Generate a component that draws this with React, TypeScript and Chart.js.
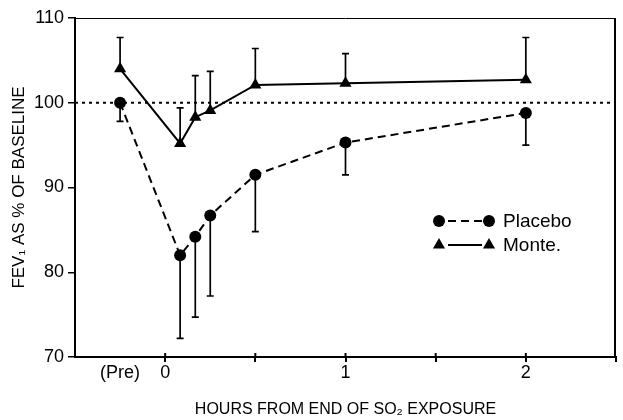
import { useEffect, useRef } from "react";
import { Chart, registerables } from "chart.js";

Chart.register(...registerables);

// Hours from end of SO2 exposure ("Pre" plotted at -0.25)
const hours = [-0.25, 0.083, 0.167, 0.25, 0.5, 1, 2];
const placebo = [100.0, 82.0, 84.2, 86.7, 91.5, 95.3, 98.8];
const placeboLow = [97.8, 72.2, 74.7, 77.2, 84.8, 91.5, 95.0];
const monte = [104.0, 95.2, 98.3, 99.1, 102.1, 102.3, 102.7];
const monteHigh = [107.7, 99.4, 103.2, 103.7, 106.4, 105.8, 107.7];
const xTicks = [-0.25, 0, 0.5, 1, 1.5, 2, 2.5];
const xTickLabels = ["(Pre)", "0", "", "1", "", "2", ""];
const yTicks = [70, 80, 90, 100, 110];
const baseline = 100;
const xRange = [-0.5, 2.5];
const yRange = [70, 110];

const FONT = "'Liberation Sans', Arial, sans-serif";

const errorBarPlugin = {
  id: "errorBars",
  beforeDatasetsDraw(chart: any) {
    const ctx = chart.ctx;
    const xs = chart.scales.x;
    const ys = chart.scales.y;
    ctx.save();
    ctx.strokeStyle = "#000";
    ctx.lineWidth = 1.7;
    chart.data.datasets.forEach((ds: any) => {
      if (!ds.errorEnds) return;
      ds.data.forEach((p: any, i: number) => {
        const x = xs.getPixelForValue(p.x);
        const y0 = ys.getPixelForValue(p.y);
        const y1 = ys.getPixelForValue(ds.errorEnds[i]);
        ctx.beginPath();
        ctx.moveTo(x, y0);
        ctx.lineTo(x, y1);
        ctx.moveTo(x - 3.5, y1);
        ctx.lineTo(x + 3.5, y1);
        ctx.stroke();
      });
    });
    ctx.restore();
  },
};

const framePlugin = {
  id: "frame",
  afterDraw(chart: any) {
    const ctx = chart.ctx;
    const { left, right, top, bottom } = chart.chartArea;
    const xs = chart.scales.x;
    ctx.save();
    ctx.strokeStyle = "#000";
    ctx.lineWidth = 1;
    ctx.beginPath();
    ctx.moveTo(left, top + 0.5);
    ctx.lineTo(right, top + 0.5);
    ctx.stroke();
    ctx.lineWidth = 2;
    ctx.beginPath();
    ctx.moveTo(right - 1, top);
    ctx.lineTo(right - 1, bottom);
    ctx.stroke();
    // inner part of x ticks (they cross the axis)
    xTicks.forEach((v, i) => {
      if (xTickLabels[i] === "(Pre)") return;
      const x = Math.min(xs.getPixelForValue(v), right - 1);
      ctx.beginPath();
      ctx.moveTo(x, bottom);
      ctx.lineTo(x, bottom - 4);
      ctx.stroke();
    });
    ctx.restore();
  },
};

const drawMarker = (ctx: any, style: string, x: number, y: number, r: number) => {
  ctx.beginPath();
  if (style === "triangle") {
    ctx.moveTo(x, y - r);
    ctx.lineTo(x + r * Math.sin((2 * Math.PI) / 3), y + r / 2);
    ctx.lineTo(x - r * Math.sin((2 * Math.PI) / 3), y + r / 2);
    ctx.closePath();
  } else {
    ctx.arc(x, y, r, 0, Math.PI * 2);
  }
  ctx.fill();
};

const legendPlugin = {
  id: "customLegend",
  afterDraw(chart: any) {
    const ctx = chart.ctx;
    const { right, top } = chart.chartArea;
    const lx = right - 177;
    let ly = top + 203;
    ctx.save();
    chart.data.datasets.forEach((ds: any) => {
      if (!ds.inLegend) return;
      ctx.fillStyle = "#000";
      ctx.strokeStyle = "#000";
      ctx.lineWidth = ds.borderWidth;
      ctx.setLineDash(ds.borderDash || []);
      ctx.beginPath();
      ctx.moveTo(lx + 9, ly);
      ctx.lineTo(lx + 43, ly);
      ctx.stroke();
      ctx.setLineDash([]);
      drawMarker(ctx, ds.pointStyle, lx, ly, ds.pointRadius);
      drawMarker(ctx, ds.pointStyle, lx + 50, ly, ds.pointRadius);
      ctx.font = `19px ${FONT}`;
      ctx.textBaseline = "middle";
      ctx.textAlign = "left";
      ctx.fillText(ds.label, lx + 64, ly + 1);
      ly += 24;
    });
    ctx.restore();
  },
};

export default function App() {
  const ref = useRef<HTMLCanvasElement>(null);

  useEffect(() => {
    document.body.style.margin = "0";
    if (!ref.current) return;
    const chart = new Chart(ref.current, {
      type: "line",
      data: {
        datasets: [
          {
            label: "Baseline",
            data: [
              { x: xRange[0], y: baseline },
              { x: xRange[1], y: baseline },
            ],
            borderColor: "#000",
            borderWidth: 2,
            borderDash: [3, 4],
            pointRadius: 0,
            fill: false,
          },
          {
            label: "Placebo",
            inLegend: true,
            data: hours.map((h, i) => ({ x: h, y: placebo[i] })),
            errorEnds: placeboLow,
            borderColor: "#000",
            backgroundColor: "#000",
            borderWidth: 2,
            borderDash: [8, 5],
            pointStyle: "circle",
            pointRadius: 6,
            pointBorderWidth: 0,
            pointBackgroundColor: "#000",
            fill: false,
            tension: 0,
          },
          {
            label: "Monte.",
            inLegend: true,
            data: hours.map((h, i) => ({ x: h, y: monte[i] })),
            errorEnds: monteHigh,
            borderColor: "#000",
            backgroundColor: "#000",
            borderWidth: 2,
            pointStyle: "triangle",
            pointRadius: 7,
            pointBorderWidth: 0,
            pointBackgroundColor: "#000",
            fill: false,
            tension: 0,
          },
        ] as any,
      },
      options: {
        animation: false,
        responsive: false,
        layout: { padding: { top: 18, right: 3, left: 0, bottom: 0 } },
        plugins: {
          legend: { display: false },
          tooltip: { enabled: false },
        },
        scales: {
          x: {
            type: "linear",
            min: xRange[0],
            max: xRange[1],
            afterBuildTicks: (scale: any) => {
              scale.ticks = xTicks.map((value) => ({ value }));
            },
            afterFit: (scale: any) => {
              scale.height = 63;
            },
            border: { display: true, color: "#000", width: 2 },
            grid: {
              drawOnChartArea: false,
              drawTicks: true,
              tickLength: 5,
              lineWidth: 2,
              color: (c: any) =>
                c.tick && c.tick.value === xTicks[0] ? "rgba(0,0,0,0)" : "#000",
            },
            ticks: {
              autoSkip: false,
              maxRotation: 0,
              padding: 0,
              color: "#000",
              font: { family: FONT, size: 18 },
              callback: (_v: any, i: number) => xTickLabels[i],
            },
            title: {
              display: true,
              text: "HOURS FROM END OF SO₂ EXPOSURE",
              color: "#000",
              font: { family: FONT, size: 16 },
              padding: { top: 0, bottom: 1 },
            },
          },
          y: {
            type: "linear",
            min: yRange[0],
            max: yRange[1],
            afterBuildTicks: (scale: any) => {
              scale.ticks = yTicks.map((value) => ({ value }));
            },
            afterFit: (scale: any) => {
              scale.width = 75;
            },
            border: { display: true, color: "#000", width: 2 },
            grid: {
              drawOnChartArea: false,
              drawTicks: true,
              tickLength: 7,
              lineWidth: 1.5,
              color: "#000",
            },
            ticks: {
              padding: 4,
              color: "#000",
              font: { family: FONT, size: 18 },
            },
            title: {
              display: true,
              text: "FEV₁ AS % OF BASELINE",
              color: "#000",
              font: { family: FONT, size: 17 },
              padding: { top: 9, bottom: 0 },
            },
          },
        },
      } as any,
      plugins: [errorBarPlugin, framePlugin, legendPlugin],
    });
    return () => chart.destroy();
  }, []);

  return (
    <div style={{ width: 623, height: 420, background: "#fff" }}>
      <canvas ref={ref} width={623} height={420} />
    </div>
  );
}
